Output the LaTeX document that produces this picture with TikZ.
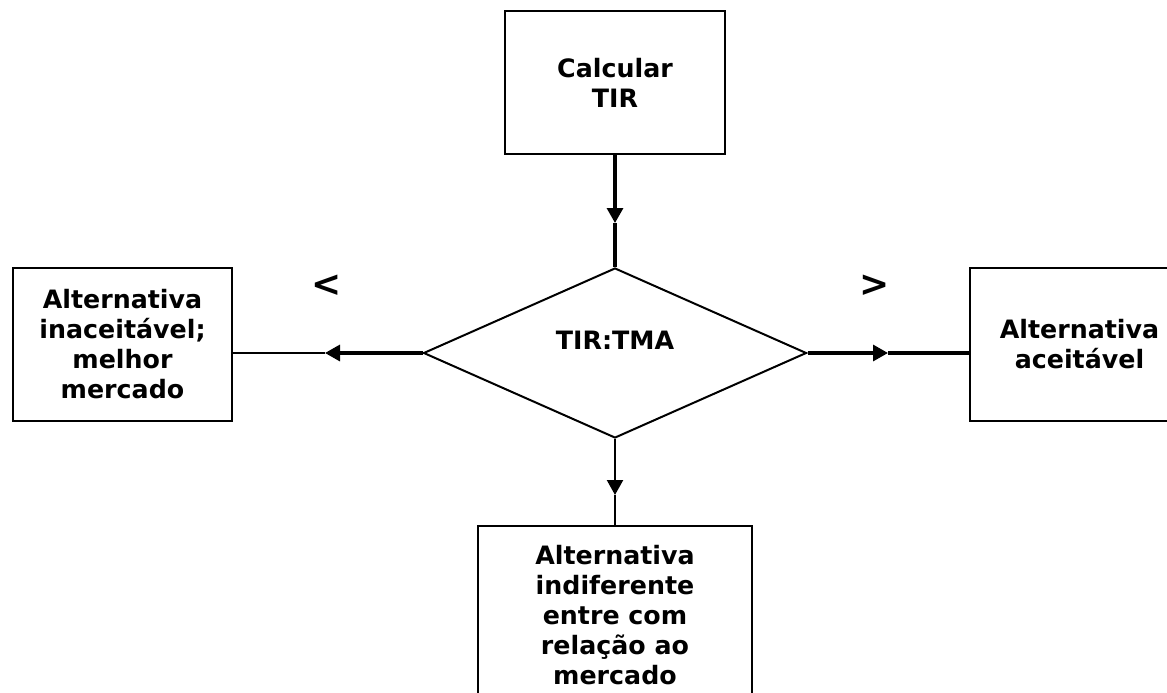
\documentclass[tikz,border=0pt]{standalone}
\usepackage{fontspec}
\setmainfont{DejaVu Sans}
\usetikzlibrary{arrows.meta,shapes.geometric}
\begin{document}
\begin{tikzpicture}[x=1pt,y=-1pt,
  box/.style={draw,line width=2.2pt,align=center,inner sep=2pt,
    font=\fontsize{25.3}{30}\selectfont\bfseries},
  dec/.style={draw,diamond,line width=2pt,inner sep=0pt,
    font=\fontsize{25.3}{30}\selectfont\bfseries},
  sign/.style={font=\fontsize{36}{40}\selectfont\bfseries},
  thk/.style={line width=3.2pt},
  thn/.style={line width=2.2pt},
  tip/.style={-{Triangle[length=15pt,width=16pt]}}]
\useasboundingbox (0,0) rectangle (1167,693);
\clip (0,0) rectangle (1167,693);
\node[box,minimum width=220pt,minimum height=143pt] (calc) at (615,82.5) {Calcular\\TIR};
\node[dec,minimum width=383pt,minimum height=170pt] (dec) at (615,353) {\raisebox{26pt}{TIR:TMA}};
\node[box,minimum width=219pt,minimum height=153pt] (left) at (122.5,344.5) {Alternativa\\inaceitável;\\melhor\\mercado};
\node[box,minimum width=219pt,minimum height=153pt] (right) at (1079.5,344.5) {Alternativa\\aceitável};
\node[box,minimum width=274pt,minimum height=178pt,anchor=north] (bot) at (615,525) {Alternativa\\indiferente\\entre com\\relação ao\\mercado};
\node[sign] (lt) at (327,286) {<};
\node[sign] (gt) at (875,286) {>};
\coordinate (t1) at (615,223);
\coordinate (l1) at (325,353);
\coordinate (r1) at (888,353);
\coordinate (b1) at (615,495);
\draw[thk,tip] (calc.south) -- (t1);
\draw[thk] (t1) -- (dec.north);
\draw[thk,tip] (dec.west) -- (l1);
\draw[thn] (l1) -- (l1 -| left.east);
\draw[thk,tip] (dec.east) -- (r1);
\draw[thk] (r1) -- (r1 -| right.west);
\draw[thn,tip] (dec.south) -- (b1);
\draw[thn] (b1) -- (bot.north);
\end{tikzpicture}
\end{document}
